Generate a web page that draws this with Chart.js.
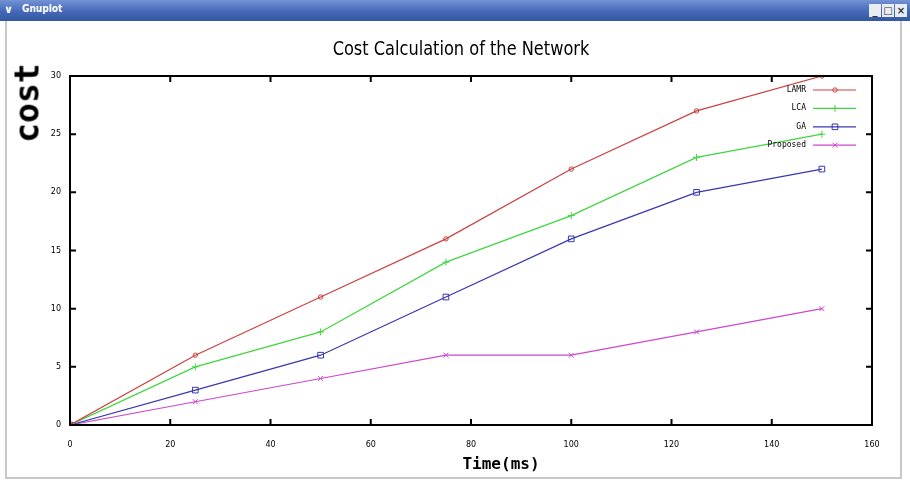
<!DOCTYPE html>
<html>
<head>
<meta charset="utf-8">
<script src="https://cdn.jsdelivr.net/npm/chart.js@4"></script>
<style>
  body { margin:0; width:910px; height:482px; overflow:hidden; background:#fff; position:relative; font-family:"DejaVu Sans", sans-serif; }
  #bar { position:absolute; left:0; top:0; width:910px; height:21px;
         background:linear-gradient(#7393d4, #4468b8 55%, #35589f); }
  #bar .name { position:absolute; left:22px; top:3px; color:#fff; font:bold 10px "DejaVu Sans Condensed","DejaVu Sans",sans-serif; }
  #bar .menu { position:absolute; left:4px; top:3px; color:#fff; font:bold 11px "DejaVu Sans",sans-serif; }
  #bar .btn { position:absolute; top:4px; width:12px; height:13px; background:#e8ecf4; color:#333; font:bold 10px "DejaVu Sans",sans-serif; text-align:center; line-height:13px; }
  #frame { position:absolute; left:5px; top:21px; width:893px; height:456px; border-left:2px solid #c8c8c8; border-right:2px solid #c8c8c8; border-bottom:2px solid #c8c8c8; }
  #wrap { position:absolute; left:0; top:0; width:910px; height:482px; }
  .lbl { position:absolute; white-space:nowrap; color:#000; }
  #title { left:461px; top:48px; font:20px "DejaVu Sans Condensed","DejaVu Sans",sans-serif; transform:translate(-50%,-50%) scaleX(0.9); }
  #ytitle { left:27px; top:103px; font:bold 33px "DejaVu Sans Mono",monospace; transform:translate(-50%,-50%) rotate(-90deg); }
  #xtitle { left:501px; top:463px; font:bold 16px "DejaVu Sans Mono",monospace; transform:translate(-50%,-50%); }
</style>
</head>
<body>
<div id="bar">
  <span class="menu">&#x2228;</span><span class="name">Gnuplot</span>
  <span class="btn" style="left:869px">_</span><span class="btn" style="left:882px">&#9633;</span><span class="btn" style="left:895px">&#215;</span>
</div>
<div id="frame"></div>
<div id="wrap"><canvas id="chart" width="910" height="482"></canvas></div>
<div class="lbl" id="title">Cost Calculation of the Network</div>
<div class="lbl" id="ytitle">cost</div>
<div class="lbl" id="xtitle">Time(ms)</div>
<script>
// data
var times = [0, 25, 50, 75, 100, 125, 150];
var lamr = [0, 6, 11, 16, 22, 27, 30];
var lca = [0, 5, 8, 14, 18, 23, 25];
var ga = [0, 3, 6, 11, 16, 20, 22];
var proposed = [0, 2, 4, 6, 6, 8, 10];
var names = ['LAMR', 'LCA', 'GA', 'Proposed'];
var xTicks = [0, 20, 40, 60, 80, 100, 120, 140, 160];
var yTicks = [0, 5, 10, 15, 20, 25, 30];

function pts(vals) {
    var out = [];
    for (var i = 0; i < vals.length; i++) {
        out.push({x: times[i], y: vals[i]});
    }
    return out;
}

function makeSet(label, vals, color, style, r) {
    return {
        label: label,
        data: pts(vals),
        borderColor: color,
        backgroundColor: color,
        pointBorderColor: color,
        pointBackgroundColor: 'rgba(255,255,255,0)',
        pointStyle: style,
        pointRadius: r,
        pointBorderWidth: 1,
        borderWidth: 1.2,
        tension: 0,
        fill: false
    };
}

var datasets = [
    makeSet(names[0], lamr, 'rgb(204,64,64)', 'circle', 2.2),
    makeSet(names[1], lca, 'rgb(64,214,64)', 'cross', 3.5),
    makeSet(names[2], ga, 'rgb(56,56,176)', 'rect', 4),
    makeSet(names[3], proposed, 'rgb(204,72,204)', 'crossRot', 3.5)
];

// border box with inward ticks on all four sides, like gnuplot
var frameBox = {
    id: 'frameBox',
    afterDatasetsDraw: function(chart) {
        var ctx = chart.ctx, a = chart.chartArea;
        var xs = chart.scales.x, ys = chart.scales.y;
        ctx.save();
        ctx.strokeStyle = '#000';
        ctx.lineWidth = 2;
        ctx.strokeRect(a.left, a.top, a.right - a.left, a.bottom - a.top);
        ctx.beginPath();
        xTicks.forEach(function(v) {
            var px = xs.getPixelForValue(v);
            ctx.moveTo(px, a.bottom); ctx.lineTo(px, a.bottom - 6);
            ctx.moveTo(px, a.top); ctx.lineTo(px, a.top + 6);
        });
        yTicks.forEach(function(v) {
            var py = ys.getPixelForValue(v);
            ctx.moveTo(a.left, py); ctx.lineTo(a.left + 6, py);
            ctx.moveTo(a.right, py); ctx.lineTo(a.right - 6, py);
        });
        ctx.stroke();

        // key in the top right corner
        ctx.font = '8px "DejaVu Sans Mono", monospace';
        ctx.textAlign = 'right';
        ctx.textBaseline = 'middle';
        chart.data.datasets.forEach(function(ds, i) {
            var y = 90 + 18.4 * i;
            ctx.fillStyle = '#000';
            ctx.fillText(ds.label, 806, y);
            ctx.strokeStyle = ds.borderColor;
            ctx.lineWidth = 1.2;
            ctx.beginPath();
            ctx.moveTo(813, y); ctx.lineTo(856, y);
            ctx.stroke();
            ctx.lineWidth = 1;
            ctx.fillStyle = ds.pointBackgroundColor;
            Chart.helpers.drawPoint(ctx, {pointStyle: ds.pointStyle, radius: ds.pointRadius, rotation: 0, borderWidth: 1}, 835, y);
        });
        ctx.restore();
    }
};

var chart = new Chart(document.getElementById('chart'), {
    type: 'line',
    data: { datasets: datasets },
    options: {
        responsive: false,
        animation: false,
        events: [],
        layout: { padding: { left: 0, top: 76, right: 38, bottom: 0 } },
        plugins: { legend: { display: false }, tooltip: { enabled: false } },
        scales: {
            x: {
                type: 'linear', min: 0, max: 160,
                grid: { display: false, drawTicks: false },
                border: { display: false },
                afterFit: function(s) { s.height = 57; },
                afterBuildTicks: function(s) { s.ticks = xTicks.map(function(v) { return {value: v}; }); },
                ticks: { padding: 15, color: '#000', font: { size: 8, family: 'DejaVu Sans' }, maxRotation: 0 }
            },
            y: {
                type: 'linear', min: 0, max: 30,
                grid: { display: false, drawTicks: false },
                border: { display: false },
                afterFit: function(s) { s.width = 70; },
                afterBuildTicks: function(s) { s.ticks = yTicks.map(function(v) { return {value: v}; }); },
                ticks: { padding: 9, color: '#000', font: { size: 8, family: 'DejaVu Sans' } }
            }
        }
    },
    plugins: [frameBox]
});
</script>
</body>
</html>
